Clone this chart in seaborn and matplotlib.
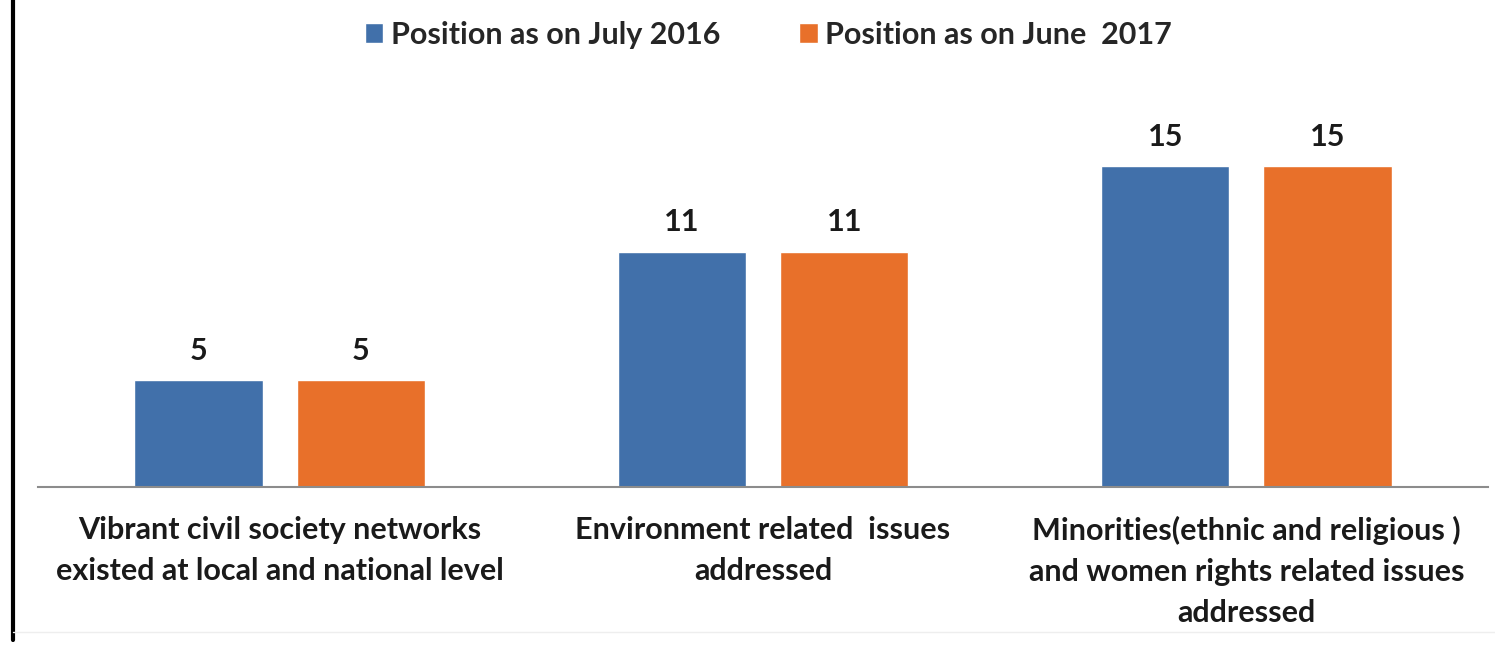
import pandas as pd
import numpy as np
import seaborn as sns
import matplotlib.pyplot as plt
from matplotlib.lines import Line2D
from matplotlib.patches import Patch

categories = ['Vibrant civil society networks\nexisted at local and national level',
              'Environment related  issues\naddressed',
              'Minorities(ethnic and religious )\nand women rights related issues\naddressed']
series = ['Position as on July 2016', 'Position as on June  2017']
july_2016 = [5, 11, 15]
june_2017 = [5, 11, 15]
colors = ['#4170AA', '#E8702A']

df = pd.DataFrame({
    'category': categories * 2,
    'series': [series[0]] * 3 + [series[1]] * 3,
    'value': july_2016 + june_2017,
})

sns.set_style('white')
plt.rcParams['font.family'] = ['Lato', 'DejaVu Sans']
plt.rcParams['font.weight'] = 'bold'

fig = plt.figure(figsize=(14.95, 6.45), dpi=100)
ax = fig.add_axes([0.0254, 0.245, 0.97, 0.597])

sns.barplot(data=df, x='category', y='value', hue='series', palette=colors,
            saturation=1, width=0.672, gap=0.21, ax=ax, legend=False)

for c in ax.containers:
    ax.bar_label(c, padding=11, fontsize=22, fontweight='bold', color='#1a1a1a')

ax.set_ylim(0, 18)
ax.set_xlim(-0.5, 2.5)
ax.set_xlabel('')
ax.set_ylabel('')
ax.set_yticks([])
for s in ['top', 'right', 'left']:
    ax.spines[s].set_visible(False)
ax.spines['bottom'].set_color('#8c8c8c')
ax.spines['bottom'].set_linewidth(1.5)
ax.tick_params(axis='x', length=0, pad=21)
for lbl in ax.get_xticklabels():
    lbl.set_fontsize(22)
    lbl.set_fontweight('bold')
    lbl.set_color('#1a1a1a')
    lbl.set_linespacing(1.56)
    lbl.set_horizontalalignment('center')

handles = [Patch(facecolor=colors[0]), Patch(facecolor=colors[1])]
fig.legend(handles, series, loc='center', bbox_to_anchor=(0.514, 0.946), ncol=2,
           frameon=False, fontsize=22, handlelength=0.6, handleheight=0.6,
           handletextpad=0.25, columnspacing=2.6)

# frame lines from the original screenshot
fig.add_artist(Line2D([0.0087, 0.0087], [0.008, 1.0], color='black', lw=3,
                      transform=fig.transFigure))
fig.add_artist(Line2D([0.0087, 1.0], [0.02, 0.02], color='#eeeeee', lw=1,
                      transform=fig.transFigure))

plt.savefig('out.png', dpi=100)
